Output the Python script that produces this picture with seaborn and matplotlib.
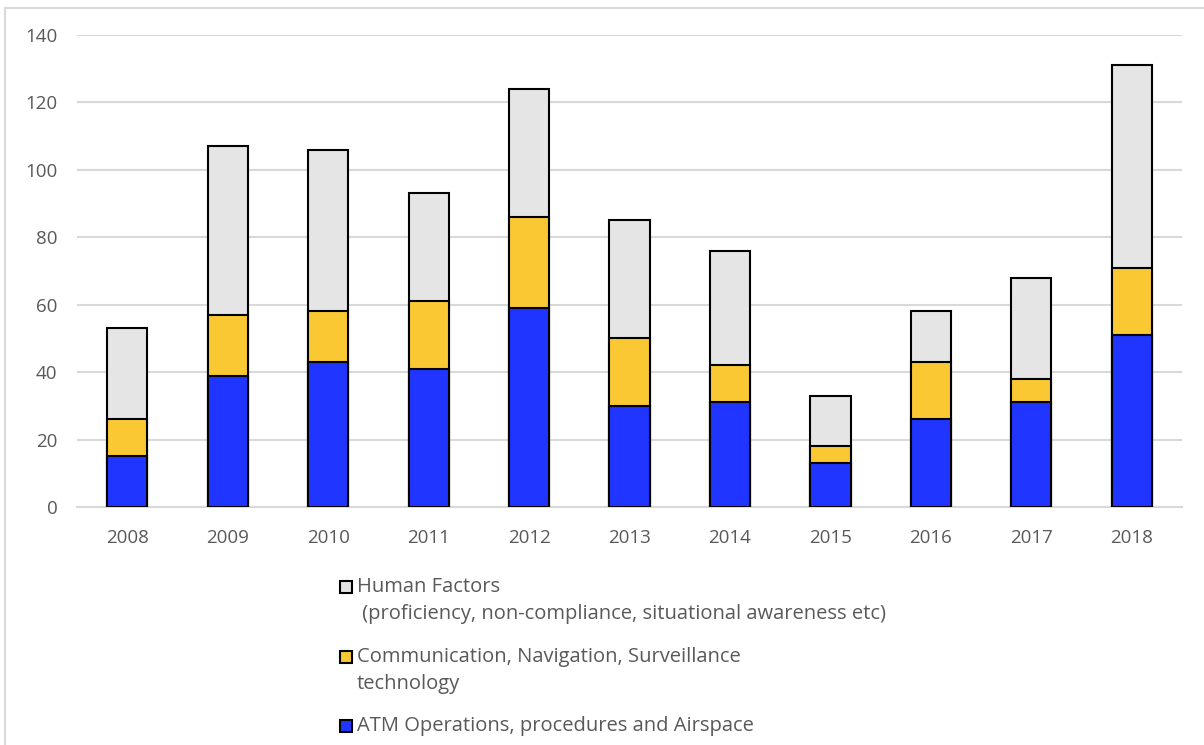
import matplotlib
matplotlib.use("Agg")
import matplotlib.pyplot as plt
import seaborn as sns
import pandas as pd
import numpy as np
from matplotlib.patches import Rectangle

years = ["2008", "2009", "2010", "2011", "2012", "2013", "2014", "2015", "2016", "2017", "2018"]
atm = [15, 39, 43, 41, 59, 30, 31, 13, 26, 31, 51]
cns = [11, 18, 15, 20, 27, 20, 11, 5, 17, 7, 20]
human = [27, 50, 48, 32, 38, 35, 34, 15, 15, 30, 60]

legend_labels = [
    ["Human Factors", " (proficiency, non-compliance, situational awareness etc)"],
    ["Communication, Navigation, Surveillance", "technology"],
    ["ATM Operations, procedures and Airspace"],
]

c_atm = "#2035FF"
c_cns = "#F9C833"
c_human = "#E5E5E5"
text_c = "#595959"
grid_c = "#D9D9D9"

sns.set_theme(style="white")
plt.rcParams["font.family"] = ["Open Sans", "DejaVu Sans"]

df = pd.DataFrame({"year": years, "atm": atm, "cns": cns, "human": human})
df["lvl2"] = df["atm"] + df["cns"]
df["total"] = df["lvl2"] + df["human"]

W, H = 1204, 745
fig = plt.figure(figsize=(W / 100, H / 100), dpi=100)
ax = fig.add_axes([77 / W, 1 - 507 / H, (1182 - 77) / W, (507 - 35) / H])

common = dict(width=0.4, edgecolor="black", linewidth=1.5, ax=ax, order=years)
sns.barplot(data=df, x="year", y="total", color=c_human, saturation=1, zorder=3, **common)
sns.barplot(data=df, x="year", y="lvl2", color=c_cns, saturation=1, zorder=4, **common)
sns.barplot(data=df, x="year", y="atm", color=c_atm, saturation=1, zorder=5, **common)

ax.set_ylim(0, 140)
ax.set_xlim(-0.5, len(years) - 0.5)
ax.set_yticks(np.arange(0, 141, 20))
ax.yaxis.grid(True, color=grid_c, linewidth=1.5, zorder=0)
ax.set_axisbelow(True)
for s in ["top", "right", "left"]:
    ax.spines[s].set_visible(False)
ax.spines["bottom"].set_color(grid_c)
ax.spines["bottom"].set_linewidth(1.5)
ax.spines["bottom"].set_zorder(1)
ax.set_xlabel("")
ax.set_ylabel("")
ax.tick_params(axis="both", length=0, labelsize=13.5, labelcolor=text_c)
ax.tick_params(axis="y", pad=14)
ax.tick_params(axis="x", pad=16)

# legend drawn manually so the swatch aligns with the first line of each entry
colors = [c_human, c_cns, c_atm]
line_y = [[587, 614], [657, 684], [726]]
for col, lines, ys in zip(colors, legend_labels, line_y):
    fig.patches.append(Rectangle((340 / W, 1 - (ys[0] + 6) / H), 12 / W, 12 / H,
                                 transform=fig.transFigure, facecolor=col,
                                 edgecolor="black", linewidth=1.5, zorder=5))
    for txt, y in zip(lines, ys):
        fig.text(357 / W, 1 - y / H, txt, ha="left", va="center",
                 fontsize=14.5, color=text_c)

fig.patches.append(Rectangle((5 / W, -0.1), 1.2, 1.1 - 8 / H, transform=fig.transFigure,
                             fill=False, edgecolor=grid_c, linewidth=1.5, zorder=0))

fig.savefig("out.png", dpi=100)
